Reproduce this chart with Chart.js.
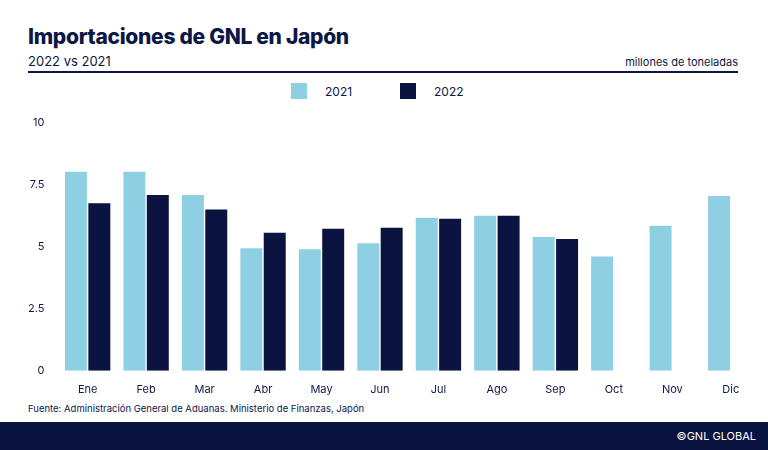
<!DOCTYPE html>
<html><head><meta charset="utf-8">
<script src="https://cdn.jsdelivr.net/npm/chart.js@4/dist/chart.umd.min.js"></script>
<style>
body{margin:0;width:768px;height:450px;background:#fff;font-family:Inter,"Noto Sans",sans-serif;position:relative;overflow:hidden;color:#0d1745}
#title{position:absolute;left:28px;top:24px;font-size:21px;font-weight:800;letter-spacing:-0.3px}
#sub{position:absolute;left:28px;top:53px;font-size:13px}
#unit{position:absolute;right:30px;top:55px;font-size:11px}
#rule{position:absolute;left:28px;right:30px;top:71px;height:1.5px;background:#0d1745}
#legend{position:absolute;top:83px;left:0;width:768px;font-size:12px}
.li{position:absolute;display:flex;align-items:center}
.sw{width:16px;height:16px;margin-right:18px}
#wrap{position:absolute;left:0;top:110px;width:768px;height:290px}
#src{position:absolute;left:28px;top:403px;font-size:9.5px}
#band{position:absolute;left:0;top:422px;width:768px;height:28px;background:#0b1340;color:#fff;font-size:11px}
#band span{position:absolute;right:12px;top:7px}
</style></head><body>
<div id="title">Importaciones de GNL en Japón</div>
<div id="sub">2022 vs 2021</div>
<div id="unit">millones de toneladas</div>
<div id="rule"></div>
<div id="legend">
<div class="li" style="left:291px"><div class="sw" style="background:#8ecfe3"></div>2021</div>
<div class="li" style="left:400px"><div class="sw" style="background:#0b1340"></div>2022</div>
</div>
<div id="wrap"><canvas id="c"></canvas></div>
<div id="src">Fuente: Administración General de Aduanas. Ministerio de Finanzas, Japón</div>
<div id="band"><span>©GNL GLOBAL</span></div>
<script>
const months=["Ene","Feb","Mar","Abr","May","Jun","Jul","Ago","Sep","Oct","Nov","Dic"];
const v2021=[8.02,8.02,7.08,4.94,4.9,5.14,6.17,6.25,5.39,4.61,5.84,7.04];
const v2022=[6.75,7.08,6.5,5.56,5.72,5.76,6.13,6.25,5.31,null,null,null];
const yTicks=[0,2.5,5,7.5,10];
new Chart(document.getElementById('c'),{type:'bar',
data:{labels:months,datasets:[
{label:'2021',data:v2021,backgroundColor:'#8ecfe3'},
{label:'2022',data:v2022,backgroundColor:'#0b1340'}]},
options:{responsive:true,maintainAspectRatio:false,animation:false,
layout:{padding:{left:22,right:8,top:10,bottom:0}},
plugins:{legend:{display:false},tooltip:{enabled:false}},
datasets:{bar:{categoryPercentage:0.8,barPercentage:0.94}},
scales:{
x:{grid:{display:false},border:{display:false},ticks:{color:'#0d1745',font:{family:'Inter',size:11},padding:4}},
y:{min:0,max:10,afterBuildTicks:a=>{a.ticks=yTicks.map(v=>({value:v}))},grid:{display:false},border:{display:false},
ticks:{color:'#0d1745',font:{family:'Inter',size:11},padding:6}}}}});
</script></body></html>
